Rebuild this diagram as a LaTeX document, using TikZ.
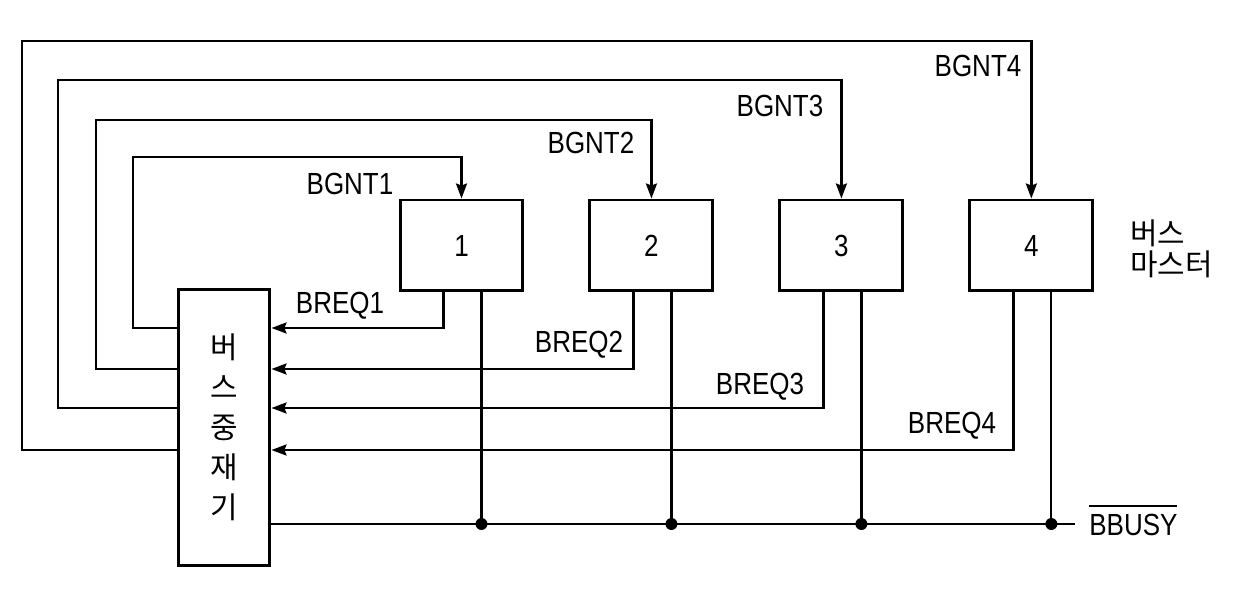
\documentclass[tikz,border=0pt]{standalone}
\usepackage{fontspec}
\setmainfont[FakeStretch=0.85]{Liberation Sans}
\newfontfamily\kor{Noto Sans CJK KR}
\usetikzlibrary{arrows.meta,positioning,calc}

\begin{document}
\begin{tikzpicture}[x=0.02cm, y=-0.02cm, >={Stealth[length=3mm,width=2.2mm,inset=0.4mm]}, node distance=1.28cm,
 every node/.style={font=\fontsize{17.4}{20}\selectfont},
 master/.style={draw, line width=1.7pt, minimum width=2.46cm, minimum height=1.82cm, inner sep=0pt},
 arbiter/.style={draw, line width=1.7pt, minimum width=1.84cm, minimum height=5.54cm, align=center, inner sep=0pt, font=\kor\fontsize{17}{22.7}\selectfont},
 sig/.style={line width=1.3pt},
 junc/.style={circle, fill, inner sep=0pt, minimum size=0.24cm}]
\useasboundingbox (0,0) rectangle (1238,590);
% arbiter and bus masters
\node[arbiter] (arb) at (224,427.5) {버\\스\\중\\재\\기};
\node[master] (m1) at (461.5,245.5) {1};
\node[master, right=of m1] (m2) {2};
\node[master, right=of m2] (m3) {3};
\node[master, right=of m3] (m4) {4};
\node[anchor=west, align=left, font=\kor\fontsize{17}{18}\selectfont] (mlabel) at (1124,249) {버스\\마스터};
% request and grant lines
\coordinate (busy) at (0,524);
\coordinate (bend) at (1075,524);
\foreach \i/\ry/\gx/\gy in {1/328/133/157, 2/369/96/120, 3/408/58/80, 4/450/22/41} {
  \coordinate (r\i) at (0,\ry);
  \coordinate (g\i) at (\gx,\gy);
  \draw[sig,->] ([xshift=-0.36cm]m\i.south) |- (arb.east |- r\i);
  \draw[sig,->] (arb.west |- r\i) -| (g\i) -| (m\i.north);
  \node[junc] (j\i) at ([xshift=0.4cm]m\i.south |- busy) {};
  \draw[sig] ([xshift=0.4cm]m\i.south) -- (j\i.center);
}
\draw[sig] (arb.east |- busy) -- (bend);
% signal names
\node (bgnt1) at (350,184) {BGNT1};
\node (bgnt2) at (591,143) {BGNT2};
\node (bgnt3) at (780,106) {BGNT3};
\node (bgnt4) at (978,66) {BGNT4};
\node (breq1) at (340,306) {BREQ1};
\node (breq2) at (579,345) {BREQ2};
\node (breq3) at (760,387) {BREQ3};
\node (breq4) at (952,426) {BREQ4};
\node[anchor=west, inner sep=0pt] (bbusy) at (1089,520) {\vbox{\hrule height 1.3pt \kern 4pt \hbox{BBUSY}}};
\end{tikzpicture}
\end{document}
